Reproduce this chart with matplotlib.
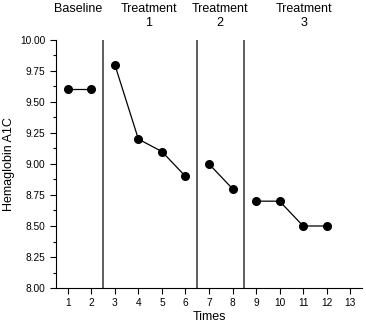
import matplotlib.pyplot as plt
from matplotlib.ticker import MultipleLocator

plt.rcParams['font.family'] = ['Liberation Sans', 'DejaVu Sans']

# Hemoglobin A1C by phase
baseline_t = [1, 2]
baseline_v = [9.6, 9.6]
treat1_t = [3, 4, 5, 6]
treat1_v = [9.8, 9.2, 9.1, 8.9]
treat2_t = [7, 8]
treat2_v = [9.0, 8.8]
treat3_t = [9, 10, 11, 12]
treat3_v = [8.7, 8.7, 8.5, 8.5]

phase_breaks = [2.5, 6.5, 8.5]
phase_labels = ['Baseline', 'Treatment\n1', 'Treatment\n2', 'Treatment\n3']
phase_label_x = [1.45, 4.45, 7.45, 11.05]

fig = plt.figure(figsize=(3.66, 3.24), dpi=100)
ax = fig.add_axes([0.153, 0.111, 0.836, 0.766])

for t, v in [(baseline_t, baseline_v), (treat1_t, treat1_v),
             (treat2_t, treat2_v), (treat3_t, treat3_v)]:
    ax.plot(t, v, color='black', lw=0.9, marker='o', markersize=5.5)

for b in phase_breaks:
    ax.axvline(b, color='#333333', lw=1.1)

ax.set_xlim(0.5, 13.5)
ax.set_ylim(8.0, 10.0)
ax.set_xticks(range(1, 14))
ax.yaxis.set_major_locator(MultipleLocator(0.25))
ax.yaxis.set_minor_locator(MultipleLocator(0.125))
ax.yaxis.set_major_formatter(plt.FormatStrFormatter('%.2f'))

ax.spines['top'].set_visible(False)
ax.spines['right'].set_visible(False)
ax.tick_params(axis='both', labelsize=7.3, length=4, width=0.8, direction='out')
ax.tick_params(axis='y', which='minor', length=2.5, width=0.8)

ax.set_xlabel('Times', fontsize=9, labelpad=2)
ax.set_ylabel('Hemaglobin A1C', fontsize=9, labelpad=4)

for x, lab in zip(phase_label_x, phase_labels):
    xf = fig.transFigure.inverted().transform(ax.transData.transform((x, 8.0)))[0]
    fig.text(xf, 1 - 3 / 324, lab, ha='center', va='top', fontsize=9,
             linespacing=1.25)

fig.savefig('out.png', dpi=100)
